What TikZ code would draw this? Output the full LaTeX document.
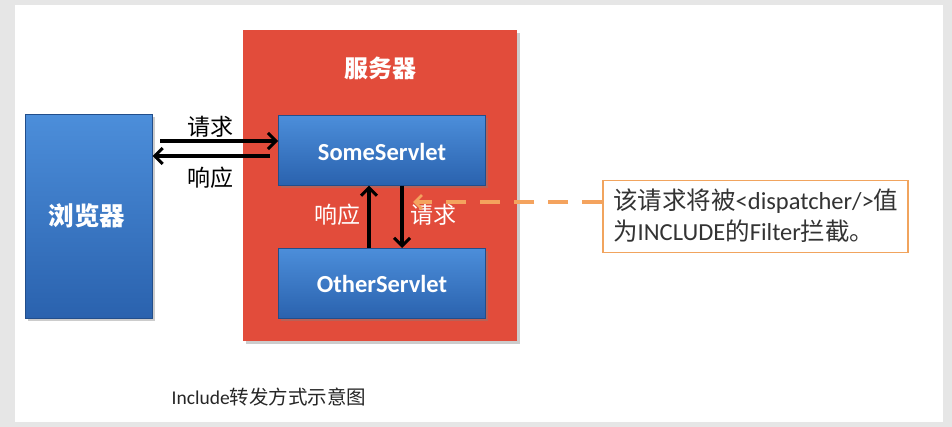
\documentclass[tikz,border=0pt]{standalone}
\usepackage{fontspec}
\setmainfont{Carlito}
\newfontfamily\cjk{Noto Sans CJK SC}
\usetikzlibrary{arrows.meta,shadows}
\definecolor{bluetop}{HTML}{4C8EDA}
\definecolor{bluebot}{HTML}{2A62AE}
\definecolor{servred}{HTML}{E24C3B}
\definecolor{dashorange}{HTML}{F4A35E}
\definecolor{noteborder}{HTML}{F1A45E}
\definecolor{notetext}{HTML}{333333}
\definecolor{framegray}{HTML}{E6E6E6}
\tikzset{
  bluebox/.style={draw=bluebot!80!black, line width=0.6pt, top color=bluetop, bottom color=bluebot,
    drop shadow={shadow xshift=3pt, shadow yshift=-3pt, opacity=0.4}},
  boxtext/.style={text=white, font=\bfseries\fontsize{24.5}{28}\selectfont},
  flowarrow/.style={line width=3.2pt, -{Straight Barb[length=8pt,width=16pt,line width=3pt]}},
  blacklabel/.style={text=black, font=\cjk\fontsize{23}{26}\selectfont},
  whitelabel/.style={text=white, font=\cjk\fontsize{23}{26}\selectfont},
}
\begin{document}
\begin{tikzpicture}[x=1pt,y=-1pt]
\useasboundingbox (0,0) rectangle (952,427);
\fill[framegray] (0,0) rectangle (952,427);
\fill[white] (15,5) rectangle (943,422);
% server
\fill[servred, drop shadow={shadow xshift=3pt, shadow yshift=-3pt, opacity=0.4}] (243,30) rectangle (517,341);
\node (server) [text=white, font=\cjk\bfseries\fontsize{24}{26}\selectfont] at (380,68) {服务器};
% browser
\node (browser) [bluebox, minimum width=127pt, minimum height=204pt, anchor=north west, inner sep=0pt] at (25,114) {};
\node (browsertxt) [text=white, font=\cjk\bfseries\fontsize{25.5}{28}\selectfont] at (87,216) {浏览器};
% servlets
\node (some) [bluebox, minimum width=207pt, minimum height=70pt, anchor=north west, inner sep=0pt] at (278,115) {};
\node (sometxt) [boxtext] at (382,152) {SomeServlet};
\node (other) [bluebox, minimum width=207pt, minimum height=70pt, anchor=north west, inner sep=0pt] at (278,248) {};
\node (othertxt) [boxtext] at (382,284) {OtherServlet};
% browser <-> SomeServlet
\coordinate (req1s) at (160,141);
\draw[flowarrow] (req1s) -- (some.west |- req1s);
\coordinate (res1s) at (270,156);
\draw[flowarrow] (res1s) -- (browser.east |- res1s);
\node (reqlab) [blacklabel] at (210,127) {请求};
\node (reslab) [blacklabel] at (210,178) {响应};
% SomeServlet <-> OtherServlet
\coordinate (upx) at (369,0);
\coordinate (downx) at (402,0);
\draw[flowarrow] (other.north -| upx) -- (some.south -| upx);
\draw[flowarrow] (some.south -| downx) -- (other.north -| downx);
\node (reslab2) [whitelabel] at (337,215) {响应};
\node (reqlab2) [whitelabel] at (433,215) {请求};
% note
\node (note) [draw=noteborder, line width=1.5pt, fill=white, anchor=north west, minimum width=305pt, minimum height=72pt, inner sep=0pt] at (602,180) {};
\node (notetxt) [text=notetext, anchor=west, align=left, inner sep=0pt, font=\fontsize{24.5}{31}\selectfont] at (613,216)
  {{\cjk 该请求将被}<dispatcher/>{\cjk 值}\\{\cjk 为}INCLUDE{\cjk 的}Filter{\cjk 拦截。}};
\coordinate (dashend) at (413,202);
\draw[dashorange, line width=3.2pt, dash pattern=on 20pt off 14pt, -{Straight Barb[length=7pt,width=14pt,line width=2.8pt]}] (note.west |- dashend) -- (dashend);
% caption
\node (caption) [text=black!85, font=\fontsize{19.5}{22}\selectfont] at (269,397) {Include{\cjk 转发方式示意图}};
\end{tikzpicture}
\end{document}
